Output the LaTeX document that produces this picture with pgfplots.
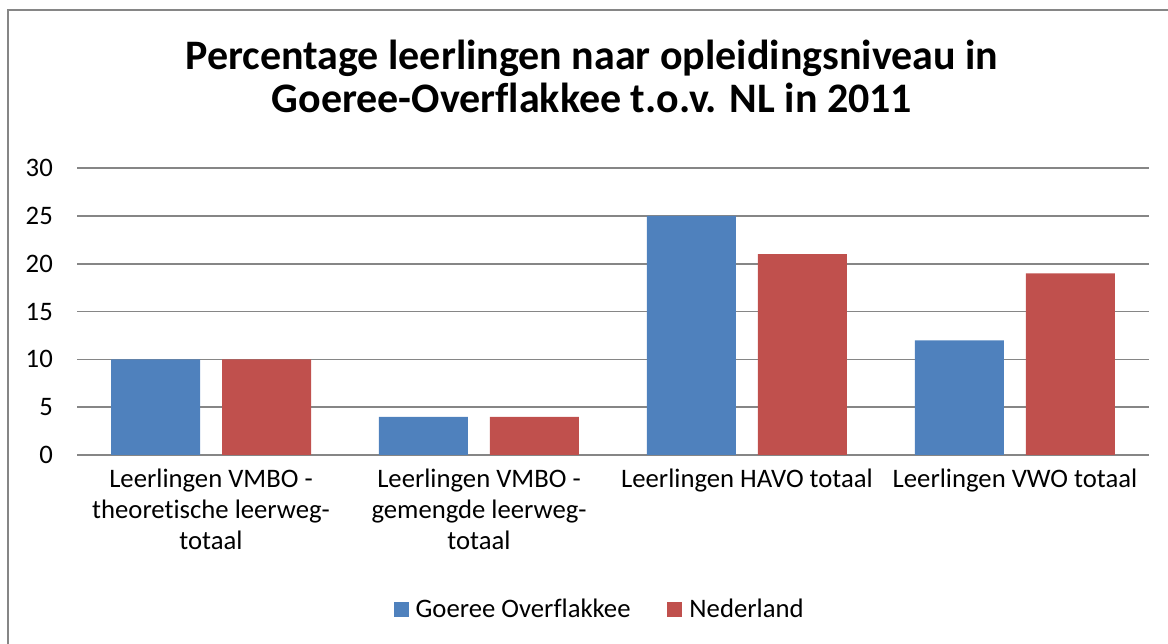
\documentclass[border=0pt]{standalone}
\usepackage{pgfplots}
\pgfplotsset{compat=1.18}
\usepackage{fontspec}
\setmainfont[Ligatures=NoCommon]{Carlito}
\definecolor{blueS}{HTML}{4F81BD}
\definecolor{redS}{HTML}{C0504D}
\definecolor{gridG}{HTML}{868686}
\begin{document}
\begin{tikzpicture}
\useasboundingbox (0pt,0pt) rectangle (1168pt,644pt);
\draw[gridG, line width=2pt] (8pt,-20pt) rectangle (1190pt,634pt);
\node[font=\fontsize{42}{48}\selectfont\bfseries, anchor=base, inner sep=0pt] at (592pt,574pt) {Percentage leerlingen naar opleidingsniveau in};
\node[font=\fontsize{42}{48}\selectfont\bfseries, anchor=base, inner sep=0pt] at (592pt,531pt) {Goeree-Overflakkee t.o.v. NL in 2011};
\begin{axis}[at={(211pt,189pt)}, anchor=origin, scale only axis,
  width=1072pt, height=286.8pt,
  xmin=-0.5, xmax=3.5, ymin=0, ymax=30, ytick={0,5,...,30},
  ybar, bar width=89pt,
  xtick={0,1,2,3},
  xticklabels={{Leerlingen VMBO -\\theoretische leerweg-\\totaal},{Leerlingen VMBO -\\gemengde leerweg-\\totaal},{Leerlingen HAVO totaal},{Leerlingen VWO totaal}},
  axis lines*=left,
  y axis line style={draw=none},
  x axis line style={draw=gridG, line width=1.5pt, -},
  major tick length=0pt,
  ymajorgrids, grid style={gridG, line width=1.5pt},
  /pgf/number format/assume math mode=true,
  ticklabel style={font=\fontsize{26.7}{31}\selectfont, text=black},
  yticklabel style={inner sep=0pt, xshift=-24pt},
  xticklabel style={inner sep=0pt, yshift=-14pt, align=center},
  legend style={at={(axis description cs:0.4875,-0.537)}, anchor=center, draw=none,
    font=\fontsize{26.7}{31}\selectfont, legend columns=2,
    /tikz/every odd column/.append style={column sep=5pt},
    /tikz/every even column/.append style={column sep=35pt}},
  legend image code/.code={\fill[#1] (0pt,-7.5pt) rectangle (15pt,7.5pt);},
]
\addplot[fill=blueS, draw=none, bar shift=-55.5pt] coordinates {(0,10) (1,4) (2,25) (3,12)};
\addplot[fill=redS, draw=none, bar shift=55.5pt] coordinates {(0,10) (1,4) (2,21) (3,19)};
\legend{Goeree Overflakkee, Nederland}
\end{axis}
\end{tikzpicture}
\end{document}
